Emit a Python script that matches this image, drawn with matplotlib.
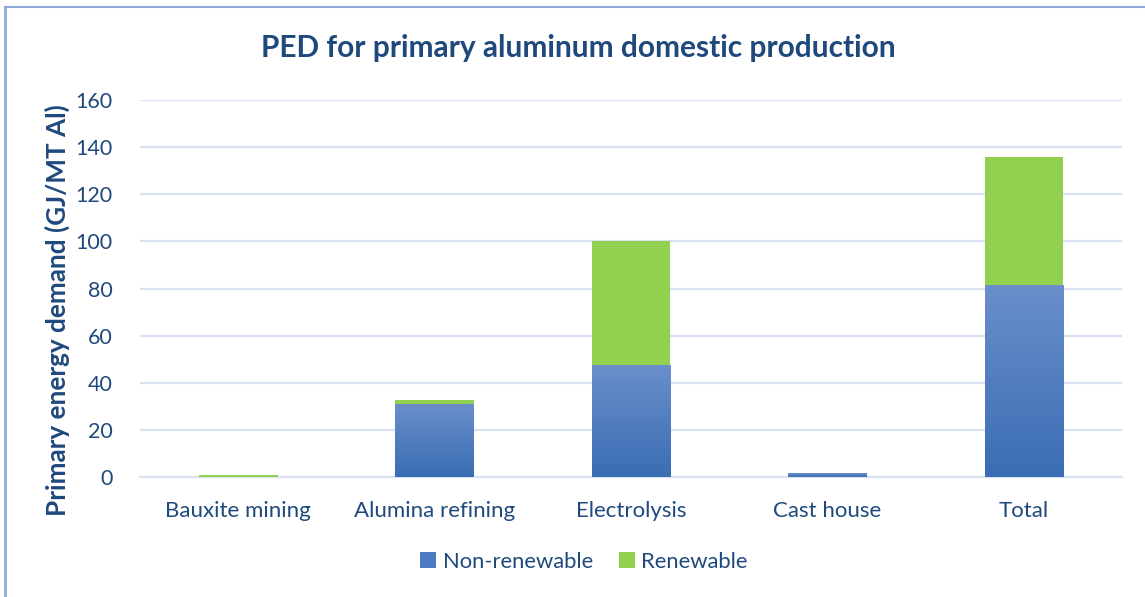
import matplotlib
matplotlib.use("Agg")
import matplotlib.pyplot as plt
import numpy as np
from matplotlib.colors import LinearSegmentedColormap
from matplotlib.lines import Line2D

# Data (GJ per MT Al)
stages = ["Bauxite mining", "Alumina refining", "Electrolysis", "Cast house", "Total"]
non_renewable = [0.2, 31.0, 47.5, 1.5, 81.5]
renewable = [0.8, 1.8, 52.5, 0.2, 54.3]
yticks = [0, 20, 40, 60, 80, 100, 120, 140, 160]

TEXT = "#1F497D"
GRID = "#D9E2F3"
GREEN = "#92D050"
BLUE_TOP = "#6A8FCB"
BLUE_BOT = "#3A6DB4"

plt.rcParams["font.family"] = ["Lato", "DejaVu Sans"]

fig = plt.figure(figsize=(11.45, 5.97), dpi=100)
ax = fig.add_axes([0.1223, 0.201, 0.8577, 0.6315])

x = np.arange(len(stages))
width = 0.4

blue_bars = ax.bar(x, non_renewable, width, color=BLUE_BOT, zorder=3, linewidth=0)
green_bars = ax.bar(x, renewable, width, bottom=non_renewable, color=GREEN, zorder=3, linewidth=0)

# vertical gradient fill for the non-renewable bars
cmap = LinearSegmentedColormap.from_list("bluegrad", [BLUE_BOT, BLUE_TOP])
grad = np.linspace(0, 1, 256).reshape(-1, 1)
for b in blue_bars:
    x0, y0 = b.get_x(), b.get_y()
    w, h = b.get_width(), b.get_height()
    im = ax.imshow(grad, cmap=cmap, aspect="auto", origin="lower",
                   extent=[x0, x0 + w, y0, y0 + h], zorder=3.5)
    im.set_clip_path(b)
    b.set_facecolor("none")

ax.set_xlim(-0.5, len(stages) - 0.5)
ax.set_ylim(0, 160)
ax.set_yticks(yticks)
ax.set_xticks(x)
ax.set_xticklabels(stages)
ax.yaxis.grid(True, color=GRID, linewidth=1.6, zorder=0)
ax.set_axisbelow(True)
for s in ["top", "right", "left"]:
    ax.spines[s].set_visible(False)
ax.spines["bottom"].set_color(GRID)
ax.spines["bottom"].set_linewidth(1.6)
ax.tick_params(axis="y", length=0, labelsize=15.5, colors=TEXT, pad=20)
ax.tick_params(axis="x", length=0, labelsize=16, colors=TEXT, pad=17)

ax.set_ylabel("Primary energy demand (GJ/MT Al)", fontsize=18.8, fontweight="bold",
              color=TEXT)
ax.yaxis.set_label_coords(70 / 1145, 1 - 310 / 597, transform=fig.transFigure)

fig.text(0.505, 0.919, "PED for primary aluminum domestic production", ha="center",
         va="center", fontsize=21.5, fontweight="bold", color=TEXT)

handles = [Line2D([], [], marker="s", linestyle="none", markersize=12,
                  markerfacecolor="#4A7BC0", markeredgewidth=0),
           Line2D([], [], marker="s", linestyle="none", markersize=12,
                  markerfacecolor=GREEN, markeredgewidth=0)]
leg = fig.legend(handles, ["Non-renewable", "Renewable"], loc="center",
                 bbox_to_anchor=(0.5087, 0.059), ncol=2, frameon=False,
                 fontsize=15.8, handletextpad=0.15, columnspacing=1.05,
                 handlelength=1.0)
for t in leg.get_texts():
    t.set_color(TEXT)

# chart frame edges
fig.add_artist(Line2D([5 / 1145, 5 / 1145], [0, 1 - 7 / 597], transform=fig.transFigure,
                      color="#8EAADB", linewidth=2))
fig.add_artist(Line2D([5 / 1145, 1], [1 - 7 / 597, 1 - 7 / 597], transform=fig.transFigure,
                      color="#8EAADB", linewidth=1.5))

fig.savefig("out.png", dpi=100)
